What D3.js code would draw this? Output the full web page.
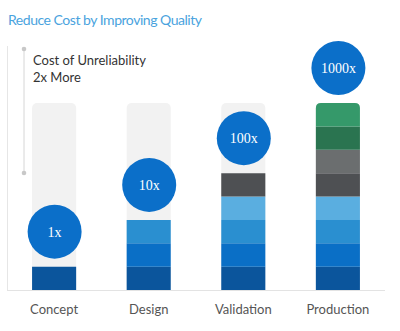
<!DOCTYPE html>
<html lang="en">
    <head>
        <meta charset="utf-8">
        <title>Reduce Cost by Improving Quality</title>
        <script src="https://d3js.org/d3.v7.min.js"></script>
        <style>
            body {
                margin: 0;
                background: white;
            }
            text {
                font-family: Lato, "Open Sans", sans-serif;
            }
        </style>
    </head>
    <body>
        <script type="text/javascript">

            var stages = ["Concept", "Design", "Validation", "Production"];
            var segmentCounts = [1, 3, 5, 8];
            var multipliers = ["1x", "10x", "100x", "1000x"];
            var segmentColors = ["#0b559c", "#0a6fc6", "#2a8fd0", "#5aaee0",
                                 "#4e5053", "#6b6e6f", "#2a7450", "#35996a"];
            var maxSegments = 8;

            var width = 400, height = 331;
            var svg = d3.select("body").append("svg")
                .attr("width", width)
                .attr("height", height);

            var xScale = d3.scaleBand()
                .domain(stages)
                .range([7, 385])
                .paddingInner(0.534)
                .paddingOuter(0.265);

            var yScale = d3.scaleLinear()
                .domain([0, maxSegments])
                .range([290, 103]);

            // title
            svg.append("text")
                .attr("x", 8)
                .attr("y", 25)
                .attr("fill", "#4aa3de")
                .attr("font-size", 14)
                .attr("textLength", 194)
                .text("Reduce Cost by Improving Quality");

            // left frame line + baseline
            svg.append("line")
                .attr("x1", 7.5).attr("x2", 7.5)
                .attr("y1", 46).attr("y2", 290)
                .attr("stroke", "#e6e6e6");
            svg.append("line")
                .attr("x1", 7).attr("x2", 385)
                .attr("y1", 290.5).attr("y2", 290.5)
                .attr("stroke", "#e3e3e3");

            // annotation bracket
            svg.append("line")
                .attr("x1", 24).attr("x2", 24)
                .attr("y1", 49).attr("y2", 173)
                .attr("stroke", "#d6d6d6");
            svg.selectAll("circle.dot")
                .data([49, 173])
                .enter().append("circle")
                .attr("class", "dot")
                .attr("cx", 24).attr("cy", d => d)
                .attr("r", 2.3)
                .attr("fill", "#c8c8c8");

            svg.append("text")
                .attr("x", 33).attr("y", 65)
                .attr("fill", "#333")
                .attr("font-size", 13)
                .text("Cost of Unreliability");
            svg.append("text")
                .attr("x", 33).attr("y", 82)
                .attr("fill", "#333")
                .attr("font-size", 13)
                .text("2x More");

            // background tracks
            svg.selectAll("rect.track")
                .data(stages)
                .enter().append("rect")
                .attr("class", "track")
                .attr("x", d => xScale(d))
                .attr("y", yScale(maxSegments))
                .attr("width", xScale.bandwidth())
                .attr("height", yScale(0) - yScale(maxSegments))
                .attr("rx", 5)
                .attr("fill", "#f2f2f2");

            // stacked segments
            var segs = [];
            stages.forEach(function(s, i) {
                for (var k = 0; k < segmentCounts[i]; k++) {
                    segs.push({ stage: s, k: k, top: k === maxSegments - 1 });
                }
            });

            var bw = xScale.bandwidth();
            svg.selectAll("path.seg")
                .data(segs)
                .enter().append("path")
                .attr("class", "seg")
                .attr("fill", d => segmentColors[d.k])
                .attr("d", function(d) {
                    var x0 = xScale(d.stage), x1 = x0 + bw;
                    var y0 = yScale(d.k), y1 = yScale(d.k + 1);
                    if (!d.top) {
                        return `M${x0},${y0}V${y1}H${x1}V${y0}Z`;
                    }
                    var r = 5;
                    return `M${x0},${y0}V${y1 + r}Q${x0},${y1} ${x0 + r},${y1}` +
                           `H${x1 - r}Q${x1},${y1} ${x1},${y1 + r}V${y0}Z`;
                });

            // multiplier bubbles
            var bubbles = svg.selectAll("g.bubble")
                .data(stages)
                .enter().append("g")
                .attr("class", "bubble")
                .attr("transform", (d, i) =>
                    `translate(${xScale(d) + bw / 2 + 0.5},${yScale(segmentCounts[i]) - 35})`);

            bubbles.append("circle")
                .attr("r", 27)
                .attr("fill", "#0b6fc9");

            bubbles.append("text")
                .attr("text-anchor", "middle")
                .attr("dy", "0.35em")
                .attr("fill", "white")
                .attr("font-size", 14)
                .style("font-family", "'Liberation Serif', 'DejaVu Serif', serif")
                .text((d, i) => multipliers[i]);

            // category labels
            svg.selectAll("text.cat")
                .data(stages)
                .enter().append("text")
                .attr("class", "cat")
                .attr("x", d => xScale(d) + bw / 2)
                .attr("y", 314)
                .attr("text-anchor", "middle")
                .attr("fill", "#555")
                .attr("font-size", 13)
                .text(d => d);

        </script>
    </body>
</html>
